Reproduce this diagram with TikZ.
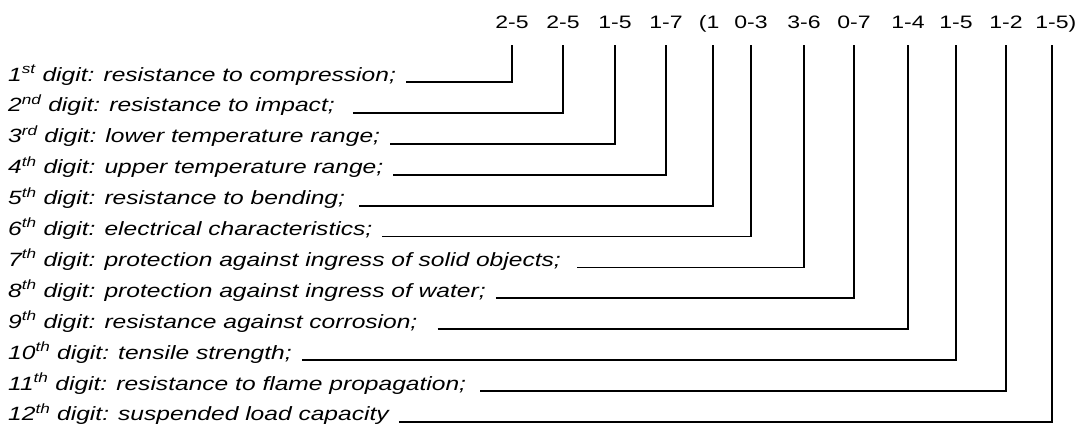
\documentclass[tikz,border=0pt]{standalone}
\usepackage{fontspec}
\setmainfont{Liberation Sans}[FakeStretch=1.28]
\usetikzlibrary{positioning}

\begin{document}
\begin{tikzpicture}[
  x=1pt,y=-1pt,
  node distance=16.5pt,
  digit/.style={anchor=west,inner sep=0pt,text height=6pt,text depth=8pt,
                font=\fontsize{19.2}{22}\selectfont\itshape},
  stack/.style={below=of #1.south west,anchor=north west},
  codelab/.style={anchor=base,inner sep=0pt,text depth=0pt,
                font=\fontsize{18}{22}\selectfont},
  conn/.style={line width=1.8pt,shorten <=10pt,shorten >=17pt}
]
\useasboundingbox (0,0) rectangle (1084,432);
% code ranges along the top
\node[codelab] (lab1)  at (512,28)  {2-5};
\node[codelab] (lab2)  at (563,28)  {2-5};
\node[codelab] (lab3)  at (615,28)  {1-5};
\node[codelab] (lab4)  at (666,28)  {1-7};
\node[codelab] (lab5)  at (713,28)  {\llap{(}1};
\node[codelab] (lab6)  at (751,28)  {0-3};
\node[codelab] (lab7)  at (804,28)  {3-6};
\node[codelab] (lab8)  at (854,28)  {0-7};
\node[codelab] (lab9)  at (908,28)  {1-4};
\node[codelab] (lab10) at (956,28)  {1-5};
\node[codelab] (lab11) at (1006,28) {1-2};
\node[codelab] (lab12) at (1052,28) {1-5\rlap{)}};
% meaning of each digit
\node[digit] (row1) at (8,82) {1\textsuperscript{st} digit: resistance to compression;};
\node[digit,stack=row1]  (row2)  {2\textsuperscript{nd} digit: resistance to impact;};
\node[digit,stack=row2]  (row3)  {3\textsuperscript{rd} digit: lower temperature range;};
\node[digit,stack=row3]  (row4)  {4\textsuperscript{th} digit: upper temperature range;};
\node[digit,stack=row4]  (row5)  {5\textsuperscript{th} digit: resistance to bending;};
\node[digit,stack=row5]  (row6)  {6\textsuperscript{th} digit: electrical characteristics;};
\node[digit,stack=row6]  (row7)  {7\textsuperscript{th} digit: protection against ingress of solid objects;};
\node[digit,stack=row7]  (row8)  {8\textsuperscript{th} digit: protection against ingress of water;};
\node[digit,stack=row8]  (row9)  {9\textsuperscript{th} digit: resistance against corrosion;};
\node[digit,stack=row9]  (row10) {10\textsuperscript{th} digit: tensile strength;};
\node[digit,stack=row10] (row11) {11\textsuperscript{th} digit: resistance to flame propagation;};
\node[digit,stack=row11] (row12) {12\textsuperscript{th} digit: suspended load capacity};
\draw[conn] (row1.east)  -| (lab1.south);
\draw[conn,shorten <=18pt] (row2.east) -| (lab2.south);
\draw[conn] (row3.east)  -| (lab3.south);
\draw[conn] (row4.east)  -| (lab4.south);
\draw[conn,shorten <=14pt] (row5.east) -| (lab5.south);
\draw[conn] (row6.east)  -| (lab6.south);
\draw[conn,shorten <=16pt] (row7.east) -| (lab7.south);
\draw[conn] (row8.east)  -| (lab8.south);
\draw[conn,shorten <=20pt] (row9.east) -| (lab9.south);
\draw[conn] (row10.east) -| (lab10.south);
\draw[conn,shorten <=14pt] (row11.east) -| (lab11.south);
\draw[conn] (row12.east) -| (lab12.south);
\end{tikzpicture}
\end{document}
